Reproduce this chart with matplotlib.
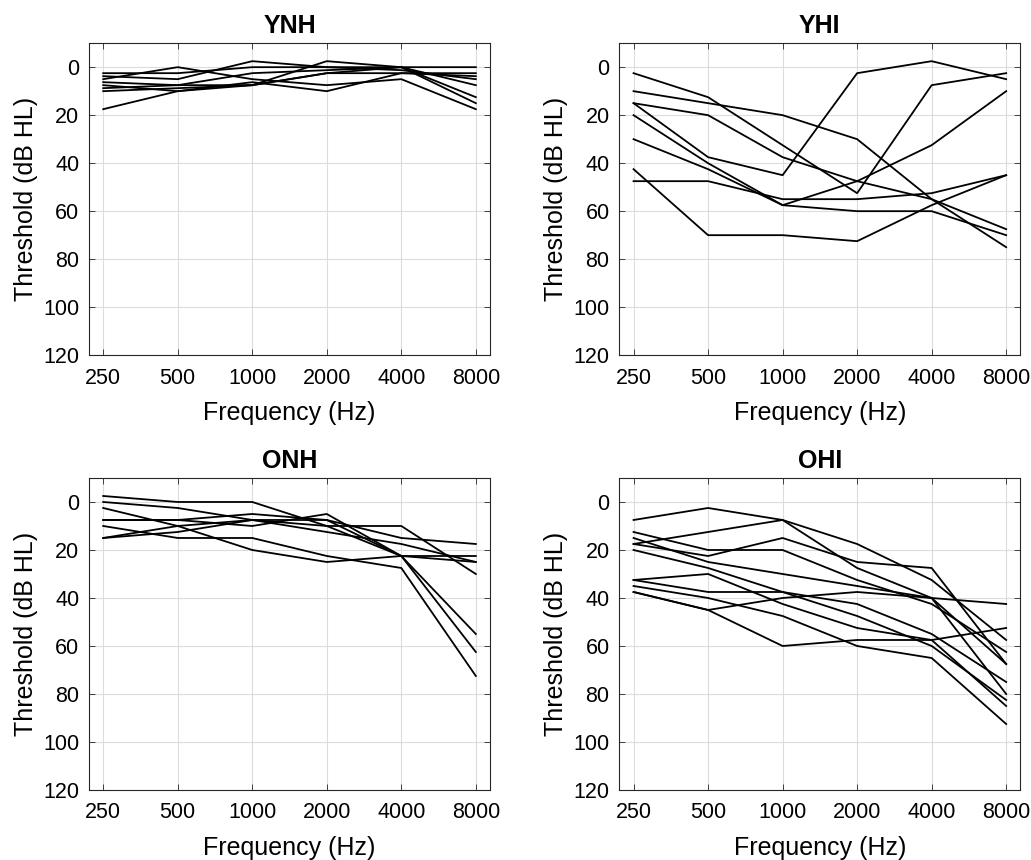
import matplotlib
matplotlib.use("Agg")
import matplotlib.pyplot as plt

plt.rcParams["font.family"] = ["Liberation Sans", "DejaVu Sans"]

# audiometric frequencies (Hz)
freqs = [250, 500, 1000, 2000, 4000, 8000]
freq_labels = ["250", "500", "1000", "2000", "4000", "8000"]
y_ticks = [0, 20, 40, 60, 80, 100, 120]

# thresholds in dB HL, one list per listener
ynh = [
    [17.5, 10, 7.5, 2.5, 0, 0],
    [5, 0, 5, 7.5, 5, 17.5],
    [2.5, 2.5, 0, 0, 1.25, 5],
    [3.75, 5, -2.5, 0, 0, 15],
    [6.25, 7.5, 7.5, -2.5, 0, 12.5],
    [7.5, 10, 6.25, 10, 2.5, 2.5],
    [8.75, 7.5, 2.5, 1.25, 0, 7.5],
    [10, 8.75, 7.5, 2.5, 2.5, 3.75],
]

yhi = [
    [2.5, 12.5, 32.5, 52.5, 7.5, 2.5],
    [10, 15, 20, 30, 55, 75],
    [15, 20, 37.5, 47.5, 55, 67.5],
    [15, 37.5, 45, 2.5, -2.5, 5],
    [20, 40, 57.5, 60, 60, 70],
    [30, 42.5, 57.5, 47.5, 32.5, 10],
    [42.5, 70, 70, 72.5, 57.5, 45],
    [47.5, 47.5, 55, 55, 52.5, 45],
]

onh = [
    [-2.5, 0, 0, 10, 22.5, 62.5],
    [0, 2.5, 7.5, 10, 10, 30],
    [2.5, 10, 20, 25, 22.5, 22.5],
    [7.5, 7.5, 5, 7.5, 15, 17.5],
    [7.5, 7.5, 10, 5, 22.5, 55],
    [10, 15, 15, 22.5, 27.5, 72.5],
    [15, 10, 7.5, 12.5, 17.5, 25],
    [15, 12.5, 7.5, 7.5, 22.5, 25],
]

ohi = [
    [7.5, 2.5, 7.5, 17.5, 32.5, 57.5],
    [17.5, 12.5, 7.5, 27.5, 40, 67.5],
    [12.5, 20, 20, 32.5, 42.5, 62.5],
    [17.5, 22.5, 15, 25, 27.5, 67.5],
    [15, 25, 30, 35, 40, 80],
    [20, 27.5, 37.5, 47.5, 60, 82.5],
    [32.5, 30, 42.5, 52.5, 57.5, 85],
    [32.5, 37.5, 37.5, 42.5, 55, 75],
    [35, 40, 47.5, 60, 65, 92.5],
    [37.5, 45, 40, 37.5, 40, 42.5],
    [37.5, 45, 60, 57.5, 57.5, 52.5],
]

groups = [("YNH", ynh), ("YHI", yhi), ("ONH", onh), ("OHI", ohi)]

# axes boxes in figure fractions [left, bottom, width, height]
boxes = [
    [0.0863, 0.587, 0.389, 0.3628],
    [0.6007, 0.587, 0.389, 0.3628],
    [0.0863, 0.0814, 0.389, 0.3628],
    [0.6007, 0.0814, 0.389, 0.3628],
]

fig = plt.figure(figsize=(10.31, 8.6), dpi=100)

for (name, curves), box in zip(groups, boxes):
    ax = fig.add_axes(box)
    for c in curves:
        ax.plot(freqs, c, color="black", lw=1.3, zorder=3)

    ax.set_xscale("log")
    ax.set_xlim(219, 9130)
    ax.set_ylim(120, -10)
    ax.set_xticks(freqs, freq_labels)
    ax.minorticks_off()
    ax.set_yticks(y_ticks)

    ax.grid(True, color="#dcdcdc", lw=0.8, zorder=0)
    ax.tick_params(direction="in", top=True, right=True, length=4,
                   width=0.6, color="#262626", labelsize=15.5, pad=7)
    ax.tick_params(axis="x", pad=9)
    for s in ax.spines.values():
        s.set_color("#262626")
        s.set_linewidth(0.8)

    ax.set_xlabel("Frequency (Hz)", fontsize=18, labelpad=9)
    ax.set_ylabel("Threshold (dB HL)", fontsize=18, labelpad=4)
    ax.set_title(name, fontsize=18, fontweight="bold", pad=7)

fig.savefig("out.png", dpi=100)
